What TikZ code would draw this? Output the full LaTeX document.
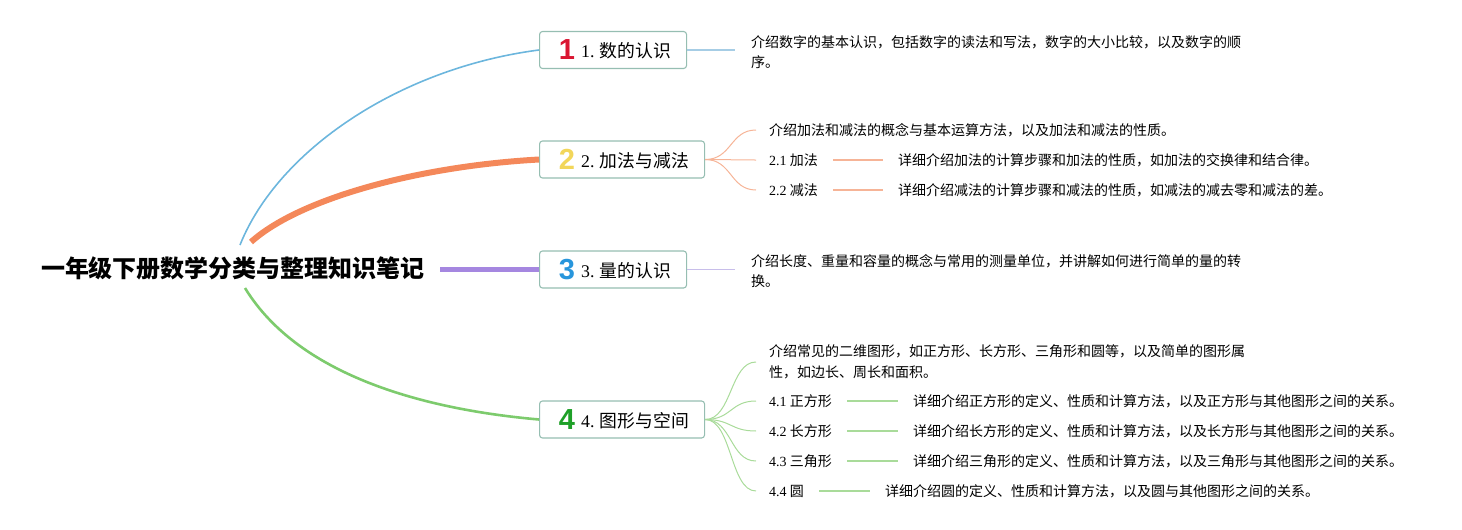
\documentclass[tikz,border=0pt]{standalone}
\usepackage{fontspec}
\setmainfont{Noto Sans CJK SC}
\newfontfamily\tnr{Liberation Serif}
\newfontfamily\digfont{Liberation Sans}
\usetikzlibrary{calc}
\definecolor{cblue}{RGB}{108,182,221}
\definecolor{corange}{RGB}{244,136,90}
\definecolor{cpurple}{RGB}{165,135,224}
\definecolor{cgreen}{RGB}{125,203,109}
\definecolor{lblue}{RGB}{166,205,229}
\definecolor{lorange}{RGB}{246,180,151}
\definecolor{lpurple}{RGB}{200,190,234}
\definecolor{lgreen}{RGB}{169,219,154}
\definecolor{boxc}{RGB}{150,190,178}
\definecolor{dred}{RGB}{218,22,50}
\definecolor{dyellow}{RGB}{242,214,90}
\definecolor{dblue}{RGB}{40,150,220}
\definecolor{dgreen}{RGB}{30,160,40}
\begin{document}
\begin{tikzpicture}[x=1pt,y=-1pt,
  topicbox/.style={draw=boxc, line width=1.1pt, rounded corners=3pt, fill=white, minimum height=37pt, inner sep=0pt, anchor=west},
  icon/.style={font=\digfont\bfseries\fontsize{29}{29}\selectfont, inner sep=0pt},
  blabel/.style={font=\fontsize{17.8}{20}\selectfont, inner sep=0pt, anchor=west},
  detail/.style={font=\fontsize{14}{20.5}\selectfont, inner sep=0pt, anchor=west, align=left},
  sub/.style={font=\fontsize{14}{20}\selectfont, inner sep=0pt, anchor=west},
  leaf/.style={line width=1pt},
  link/.style={line width=1.2pt, shorten <=15pt, shorten >=15pt}
]
\useasboundingbox (0,0) rectangle (1462,530);

% root
\node[font=\fontsize{24}{28}\selectfont\bfseries, inner sep=0pt] (root) at (233,268) {一年级下册数学分类与整理知识笔记};
\coordinate (r1) at (240,245);
\coordinate (r2) at (251,242);
\coordinate (r3) at (440,269.5);
\coordinate (r4) at (245,288);

% topic boxes
\node[topicbox, minimum width=147pt] (b1) at (539,50) {};
\node[topicbox, minimum width=165pt] (b2) at (539,159.5) {};
\node[topicbox, minimum width=147pt] (b3) at (539,269.5) {};
\node[topicbox, minimum width=165pt] (b4) at (539,419.5) {};

\node[icon, text=dred] (i1) at (567,50) {1};
\node[icon, text=dyellow] (i2) at (567,159.5) {2};
\node[icon, text=dblue] (i3) at (567,269.5) {3};
\node[icon, text=dgreen] (i4) at (567,419.5) {4};

\node[blabel] (l1) at (581,51) {{\tnr 1.} 数的认识};
\node[blabel] (l2) at (581,160.5) {{\tnr 2.} 加法与减法};
\node[blabel] (l3) at (581,270.5) {{\tnr 3.} 量的认识};
\node[blabel] (l4) at (581,420.5) {{\tnr 4.} 图形与空间};

% main branches
\draw[cblue, line width=1.6pt] (r1) .. controls (278,150) and (400,68) .. (b1.west);
\draw[corange, line width=6pt] (r2) .. controls (300,198) and (420,166) .. (b2.west);
\draw[cpurple, line width=5pt] (r3) -- (b3.west);
\draw[cgreen, line width=2.6pt] (r4) .. controls (300,378) and (430,410) .. (b4.west);

% topic 1
\node[detail] (t1) at (751,52) {介绍数字的基本认识，包括数字的读法和写法，数字的大小比较，以及数字的顺\\序。};
\coordinate (e1) at (735,50);
\draw[lblue, line width=1.3pt] (b1.east) -- (e1);

% topic 2
\node[detail] (t2) at (769,130) {介绍加法和减法的概念与基本运算方法，以及加法和减法的性质。};
\node[sub] (s21) at (769,160) {{\tnr 2.1} 加法};
\node[sub] (s22) at (769,190) {{\tnr 2.2} 减法};
\node[detail] (d21) at (898,160) {详细介绍加法的计算步骤和加法的性质，如加法的交换律和结合律。};
\node[detail] (d22) at (898,190) {详细介绍减法的计算步骤和减法的性质，如减法的减去零和减法的差。};
\foreach \n/\y in {t2/130,s21/160,s22/190}
  \draw[lorange, leaf] (b2.east) .. controls (732,159.5) and (730,\y) .. ($(\n.west)+(-13,0)$);
\draw[lorange, link] (s21.east) -- (d21.west);
\draw[lorange, link] (s22.east) -- (d22.west);

% topic 3
\node[detail] (t3) at (751,271) {介绍长度、重量和容量的概念与常用的测量单位，并讲解如何进行简单的量的转\\换。};
\coordinate (e3) at (735,269.5);
\draw[lpurple, line width=1.3pt] (b3.east) -- (e3);

% topic 4
\node[detail] (t4) at (769,362) {介绍常见的二维图形，如正方形、长方形、三角形和圆等，以及简单的图形属\\性，如边长、周长和面积。};
\node[sub] (s41) at (769,401) {{\tnr 4.1} 正方形};
\node[sub] (s42) at (769,431) {{\tnr 4.2} 长方形};
\node[sub] (s43) at (769,461) {{\tnr 4.3} 三角形};
\node[sub] (s44) at (769,491) {{\tnr 4.4} 圆};
\node[detail] (d41) at (913,401) {详细介绍正方形的定义、性质和计算方法，以及正方形与其他图形之间的关系。};
\node[detail] (d42) at (913,431) {详细介绍长方形的定义、性质和计算方法，以及长方形与其他图形之间的关系。};
\node[detail] (d43) at (913,461) {详细介绍三角形的定义、性质和计算方法，以及三角形与其他图形之间的关系。};
\node[detail] (d44) at (885,491) {详细介绍圆的定义、性质和计算方法，以及圆与其他图形之间的关系。};
\foreach \n/\y in {t4/362,s41/401,s42/431,s43/461,s44/491}
  \draw[lgreen, leaf] (b4.east) .. controls (732,419.5) and (730,\y) .. ($(\n.west)+(-13,0)$);
\foreach \i in {1,2,3,4}
  \draw[lgreen, link] (s4\i.east) -- (d4\i.west);
\end{tikzpicture}
\end{document}
